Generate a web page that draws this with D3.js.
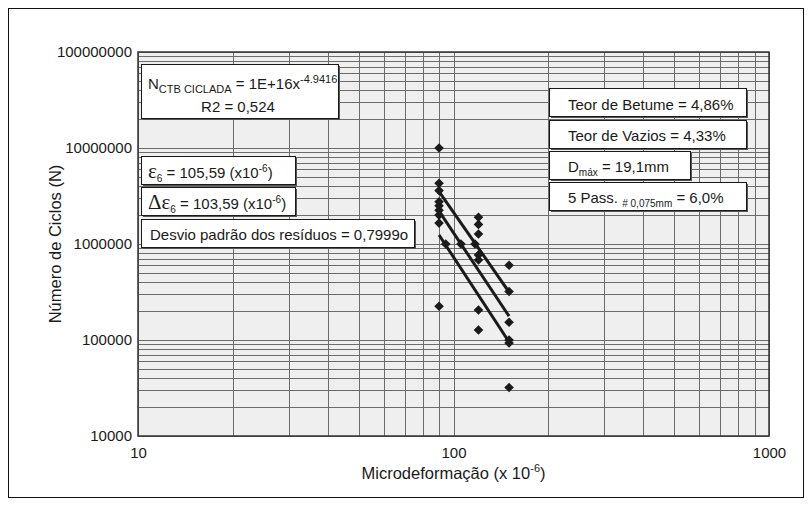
<!DOCTYPE html>
<html>
<head>
<meta charset="utf-8">
<script src="https://cdn.jsdelivr.net/npm/d3@7/dist/d3.min.js"></script>
<style>
  html, body { margin: 0; padding: 0; background: #ffffff; }
  svg { display: block; font-family: "Liberation Sans", Arial, sans-serif; }
</style>
</head>
<body>
<svg id="chart" width="811" height="505"></svg>
<script>
// Fatigue test results: microstrain (x10^-6) vs number of cycles to failure
const strainValues = [
  90, 90, 90, 90, 90, 90, 90, 90, 90,
  120, 120, 120, 120, 120, 120, 120,
  150, 150, 150, 150, 150, 150
];
const cycleValues = [
  1.0e7, 4.3e6, 3.6e6, 2.75e6, 2.5e6, 2.25e6, 2.0e6, 1.65e6, 2.25e5,
  1.9e6, 1.6e6, 1.27e6, 7.7e5, 6.8e5, 2.05e5, 1.27e5,
  6.0e5, 3.2e5, 1.53e5, 1.0e5, 9.3e4, 3.2e4
];

// Fitted law N = 1E+16 x^-4.9416 and its upper / lower bands
const fitStrain = [90, 150];
const fitCycles = [2.2e6, 1.77e5];
const upperCycles = [3.51e6, 3.16e5];
const lowerCycles = [1.24e6, 9.53e4];

// Strain at one million cycles on each line
const eps6Strain = [94.5, 105.59, 117];
const eps6Cycles = [1e6, 1e6, 1e6];

// Axis ticks
const xTickLabels = [10, 100, 1000];
const yTickLabels = [1e4, 1e5, 1e6, 1e7, 1e8];

// Annotation texts
const eqMain = ["N", "CTB CICLADA", " = 1E+16x", "-4.9416"];
const eqR2 = "R2 = 0,524";
const eps6Text = ["ε", "6", " = 105,59 (x10", "-6", ")"];
const deltaEpsText = ["Δε", "6", " = 103,59 (x10", "-6", ")"];
const residText = "Desvio padrão dos resíduos = 0,7999o";
const betumeText = "Teor de Betume = 4,86%";
const vaziosText = "Teor de Vazios = 4,33%";
const dmaxText = ["D", "máx", " = 19,1mm"];
const passText = ["5 Pass. ", "# 0,075mm", " = 6,0%"];
const xTitle = ["Microdeformação (x 10", "-6", ")"];
const yTitle = "Número de Ciclos (N)";

const svg = d3.select("#chart");
const plot = { left: 138, right: 769, top: 52, bottom: 436 };

// Outer frame of the figure
svg.append("rect")
  .attr("x", 8.5).attr("y", 8.5).attr("width", 795).attr("height", 489)
  .attr("fill", "none").attr("stroke", "#111").attr("stroke-width", 1);

const x = d3.scaleLog().domain([10, 1000]).range([plot.left, plot.right]);
const y = d3.scaleLog().domain([1e4, 1e8]).range([plot.bottom, plot.top]);

// Plot area background
svg.append("rect")
  .attr("x", plot.left).attr("y", plot.top)
  .attr("width", plot.right - plot.left).attr("height", plot.bottom - plot.top)
  .attr("fill", "#efefef");

// Grid: every 1..9 multiple of each decade
const xGridVals = [];
for (let d = 10; d < 1000; d *= 10) for (let k = 1; k <= 9; k++) xGridVals.push(d * k);
xGridVals.push(1000);
const yGridVals = [];
for (let d = 1e4; d < 1e8; d *= 10) for (let k = 1; k <= 9; k++) yGridVals.push(d * k);
yGridVals.push(1e8);

const xGrid = svg.append("g")
  .attr("transform", `translate(0,${plot.bottom})`)
  .call(d3.axisBottom(x).tickValues(xGridVals).tickSize(-(plot.bottom - plot.top)).tickFormat(""));
const yGrid = svg.append("g")
  .attr("transform", `translate(${plot.left},0)`)
  .call(d3.axisLeft(y).tickValues(yGridVals).tickSize(-(plot.right - plot.left)).tickFormat(""));
[xGrid, yGrid].forEach(g => {
  g.select(".domain").remove();
  g.selectAll("line").attr("stroke", "#6c6c6c").attr("stroke-width", 1).attr("shape-rendering", "crispEdges");
});

// Plot border
svg.append("rect")
  .attr("x", plot.left).attr("y", plot.top)
  .attr("width", plot.right - plot.left).attr("height", plot.bottom - plot.top)
  .attr("fill", "none").attr("stroke", "#333").attr("stroke-width", 1.5);

// Tick labels
const xAxis = svg.append("g")
  .attr("transform", `translate(0,${plot.bottom})`)
  .call(d3.axisBottom(x).tickValues(xTickLabels).tickSize(0).tickPadding(11).tickFormat(d3.format("d")));
const yAxis = svg.append("g")
  .attr("transform", `translate(${plot.left},0)`)
  .call(d3.axisLeft(y).tickValues(yTickLabels).tickSize(0).tickPadding(6).tickFormat(d3.format("d")));
[xAxis, yAxis].forEach(g => {
  g.select(".domain").remove();
  g.selectAll("text").attr("font-size", 15).attr("fill", "#1a1a1a")
    .attr("font-family", "'Liberation Sans', Arial, sans-serif");
});

// Rich text helper: parts are [text, kind] with kind "n", "sub", "sup"
function richText(parent, tx, ty, parts, opts = {}) {
  const base = opts.size || 15;
  const t = parent.append("text").attr("x", tx).attr("y", ty)
    .attr("font-size", base).attr("fill", "#1a1a1a");
  if (opts.anchor) t.attr("text-anchor", opts.anchor);
  let shift = 0;
  parts.forEach(([s, kind, extra]) => {
    let target = 0, size = base;
    if (kind === "sub") { target = opts.subShift || 4; size = opts.subSize || 10; }
    if (kind === "sup") { target = -(opts.supShift || 6); size = opts.supSize || 10; }
    const ts = t.append("tspan").text(s).attr("font-size", size).attr("dy", target - shift);
    if (extra && extra.family) ts.attr("font-family", extra.family);
    if (extra && extra.size) ts.attr("font-size", extra.size);
    shift = target;
  });
  return t;
}

function box(x0, y0, w, h) {
  svg.append("rect").attr("x", x0 + 2).attr("y", y0 + 2).attr("width", w).attr("height", h)
    .attr("fill", "#555");
  svg.append("rect").attr("x", x0 + 0.5).attr("y", y0 + 0.5).attr("width", w).attr("height", h)
    .attr("fill", "#ffffff").attr("stroke", "#1a1a1a").attr("stroke-width", 1);
}

// Fitted lines
const line = d3.line().x(d => x(d[0])).y(d => y(d[1]));
[upperCycles, fitCycles, lowerCycles].forEach(vals => {
  svg.append("path")
    .datum(fitStrain.map((s, i) => [s, vals[i]]))
    .attr("d", line)
    .attr("fill", "none").attr("stroke", "#1a1a1a").attr("stroke-width", 3);
});

// Data points and the strain-at-one-million-cycles markers
const diamond = d3.symbol().type(d3.symbolSquare).size(46);
const allPts = strainValues.map((s, i) => [s, cycleValues[i]])
  .concat(eps6Strain.map((s, i) => [s, eps6Cycles[i]]));
svg.append("g").selectAll("path").data(allPts).join("path")
  .attr("d", diamond)
  .attr("transform", d => `translate(${x(d[0])},${y(d[1])}) rotate(45)`)
  .attr("fill", "#1a1a1a");

// Equation box
box(141, 64, 197, 54);
richText(svg, 148, 89, [[eqMain[0], "n"], [eqMain[1], "sub"], [eqMain[2], "n"], [eqMain[3], "sup"]],
  { subSize: 11, supSize: 11 });
richText(svg, 238, 112, [[eqR2, "n"]], { anchor: "middle" });

// Strain boxes
box(141, 156, 154, 28);
richText(svg, 148, 178, [[eps6Text[0], "n", { family: "'Liberation Serif', serif", size: 21 }],
  [eps6Text[1], "sub"], [eps6Text[2], "n"], [eps6Text[3], "sup"], [eps6Text[4], "n"]]);
box(141, 187, 154, 28);
richText(svg, 148, 209, [[deltaEpsText[0], "n", { family: "'Liberation Serif', serif", size: 21 }],
  [deltaEpsText[1], "sub"], [deltaEpsText[2], "n"], [deltaEpsText[3], "sup"], [deltaEpsText[4], "n"]]);
box(141, 219, 273, 28);
richText(svg, 150, 240, [[residText, "n"]]);

// Mix boxes
box(549, 88, 197, 28);
richText(svg, 568, 110, [[betumeText, "n"]]);
box(549, 120, 197, 28);
richText(svg, 568, 141, [[vaziosText, "n"]]);
box(549, 151, 141, 28);
richText(svg, 568, 172, [[dmaxText[0], "n"], [dmaxText[1], "sub"], [dmaxText[2], "n"]]);
box(549, 182, 197, 28);
richText(svg, 568, 203, [[passText[0], "n"], [passText[1], "sub"], [passText[2], "n"]]);

// Axis titles
richText(svg, (plot.left + plot.right) / 2, 479,
  [[xTitle[0], "n"], [xTitle[1], "sup"], [xTitle[2], "n"]],
  { anchor: "middle", size: 16.5, supSize: 11, supShift: 7 });
svg.append("text")
  .attr("transform", `translate(61,${(plot.top + plot.bottom) / 2}) rotate(-90)`)
  .attr("text-anchor", "middle").attr("font-size", 16.5).attr("fill", "#1a1a1a")
  .text(yTitle);
</script>
</body>
</html>
